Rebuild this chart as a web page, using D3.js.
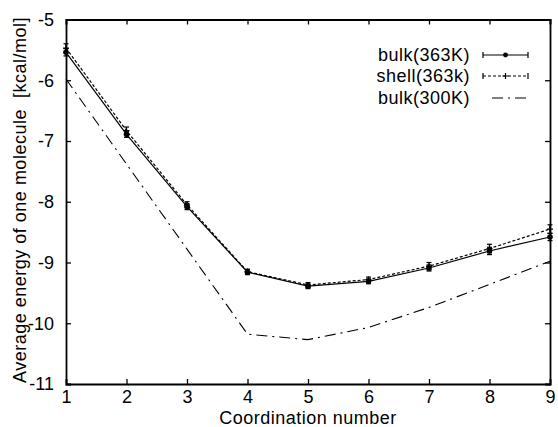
<!DOCTYPE html>
<html><head><meta charset="utf-8">
<script src="https://cdn.jsdelivr.net/npm/d3@7"></script>
<style>body{margin:0;background:#fff}svg{display:block}text{font-family:"Liberation Sans",Arial,sans-serif;fill:#000}</style>
</head><body><svg id="c" width="558" height="427"></svg>
<script>
const coord = [1,2,3,4,5,6,7,8,9];
const bulk363 = [-5.54,-6.89,-8.08,-9.16,-9.39,-9.31,-9.09,-8.81,-8.58];
const bulk363Err = [0.06,0.05,0.05,0.04,0.04,0.04,0.05,0.06,0.06];
const shell363 = [-5.47,-6.83,-8.05,-9.15,-9.37,-9.28,-9.06,-8.77,-8.45];
const shell363Err = [0.07,0.06,0.05,0.04,0.04,0.04,0.06,0.07,0.07];
const bulk300 = [-5.98,-7.38,-8.78,-10.18,-10.27,-10.07,-9.74,-9.36,-8.98];
const xTicks = [1,2,3,4,5,6,7,8,9];
const yTicks = [-5,-6,-7,-8,-9,-10,-11];
const seriesNames = ["bulk(363K)","shell(363k)","bulk(300K)"];

const svg = d3.select("#c");
const L=66,R=550,T=19.5,B=384;
const x = d3.scaleLinear().domain([1,9]).range([L,R]);
const y = d3.scaleLinear().domain([-11,-5]).range([B,T]);
const fs = 18, ls = "0.5px";

const tl = 5;
const gB = svg.append("g").attr("transform",`translate(0,${B})`)
  .call(d3.axisBottom(x).tickValues(xTicks).tickSize(-tl).tickPadding(6).tickFormat(d3.format("d")));
const gT = svg.append("g").attr("transform",`translate(0,${T})`)
  .call(d3.axisTop(x).tickValues(xTicks).tickSize(-tl).tickFormat(""));
const gL = svg.append("g").attr("transform",`translate(${L},0)`)
  .call(d3.axisLeft(y).tickValues(yTicks).tickSize(-tl).tickPadding(12).tickFormat(d=>d3.format("d")(d).replace("−","-")));
const gR = svg.append("g").attr("transform",`translate(${R},0)`)
  .call(d3.axisRight(y).tickValues(yTicks).tickSize(-tl).tickFormat(""));
[gB,gT,gL,gR].forEach(g=>{
  g.select(".domain").attr("stroke","#000").attr("stroke-width",1.8);
  g.selectAll(".tick line").attr("stroke","#000").attr("stroke-width",1.3);
  g.selectAll("text").attr("font-size",fs).attr("font-family","Liberation Sans, Arial, sans-serif").attr("fill","#000");
});

svg.append("text").attr("x",308).attr("y",424).attr("text-anchor","middle").attr("font-size",fs).attr("letter-spacing",ls).text("Coordination number");
svg.append("text").attr("transform","translate(26,200) rotate(-90)").attr("text-anchor","middle").attr("font-size",fs)
  .attr("letter-spacing",ls).attr("xml:space","preserve").text("Average energy of one molecule  [kcal/mol]");

const line = d3.line().x((d,i)=>x(coord[i])).y(d=>y(d));
const plot = svg.append("g");
plot.append("path").datum(bulk300).attr("d",line).attr("fill","none").attr("stroke","#000").attr("stroke-width",1.1)
  .attr("stroke-dasharray","11,5,2,5");
plot.append("path").datum(shell363).attr("d",line).attr("fill","none").attr("stroke","#000").attr("stroke-width",1.2)
  .attr("stroke-dasharray","3,2");
plot.append("path").datum(bulk363).attr("d",line).attr("fill","none").attr("stroke","#000").attr("stroke-width",1.2);

function errbars(vals, errs){
  const g = plot.append("g").attr("stroke","#000").attr("stroke-width",1.2);
  vals.forEach((v,i)=>{
    const cx=x(coord[i]);
    g.append("line").attr("x1",cx).attr("x2",cx).attr("y1",y(v-errs[i])).attr("y2",y(v+errs[i]));
    g.append("line").attr("x1",cx-2.5).attr("x2",cx+2.5).attr("y1",y(v-errs[i])).attr("y2",y(v-errs[i]));
    g.append("line").attr("x1",cx-2.5).attr("x2",cx+2.5).attr("y1",y(v+errs[i])).attr("y2",y(v+errs[i]));
  });
}
errbars(shell363, shell363Err);
errbars(bulk363, bulk363Err);
shell363.forEach((v,i)=>{
  const cx=x(coord[i]), cy=y(v);
  plot.append("path").attr("d",`M${cx-3},${cy}H${cx+3}M${cx},${cy-3}V${cy+3}`).attr("stroke","#000").attr("stroke-width",1.2);
});
plot.selectAll("circle.b").data(bulk363).enter().append("circle")
  .attr("cx",(d,i)=>x(coord[i])).attr("cy",d=>y(d)).attr("r",2.8).attr("fill","#000");

const legY=[55,76,98], lx1=483, lx2=528, lxm=505.5;
const lg = svg.append("g");
seriesNames.forEach((n,i)=>{
  lg.append("text").attr("x",470).attr("y",legY[i]).attr("dy","0.35em").attr("text-anchor","end").attr("font-size",fs).attr("letter-spacing",ls).text(n);
});
lg.append("line").attr("x1",lx1).attr("x2",lx2).attr("y1",legY[0]).attr("y2",legY[0]).attr("stroke","#000").attr("stroke-width",1.2);
[lx1,lx2].forEach(xx=>lg.append("line").attr("x1",xx).attr("x2",xx).attr("y1",legY[0]-3).attr("y2",legY[0]+3).attr("stroke","#000").attr("stroke-width",1.2));
lg.append("circle").attr("cx",lxm).attr("cy",legY[0]).attr("r",2.4).attr("fill","#000");
lg.append("line").attr("x1",lx1).attr("x2",lx2).attr("y1",legY[1]).attr("y2",legY[1]).attr("stroke","#000").attr("stroke-width",1.2).attr("stroke-dasharray","3,2");
[lx1,lx2].forEach(xx=>lg.append("line").attr("x1",xx).attr("x2",xx).attr("y1",legY[1]-3).attr("y2",legY[1]+3).attr("stroke","#000").attr("stroke-width",1.2));
lg.append("path").attr("d",`M${lxm-3},${legY[1]}H${lxm+3}M${lxm},${legY[1]-3}V${legY[1]+3}`).attr("stroke","#000").attr("stroke-width",1.2);
lg.append("line").attr("x1",lx1+9).attr("x2",lx2).attr("y1",legY[2]).attr("y2",legY[2]).attr("stroke","#000").attr("stroke-width",1.1).attr("stroke-dasharray","11,5,2,5");
</script></body></html>
